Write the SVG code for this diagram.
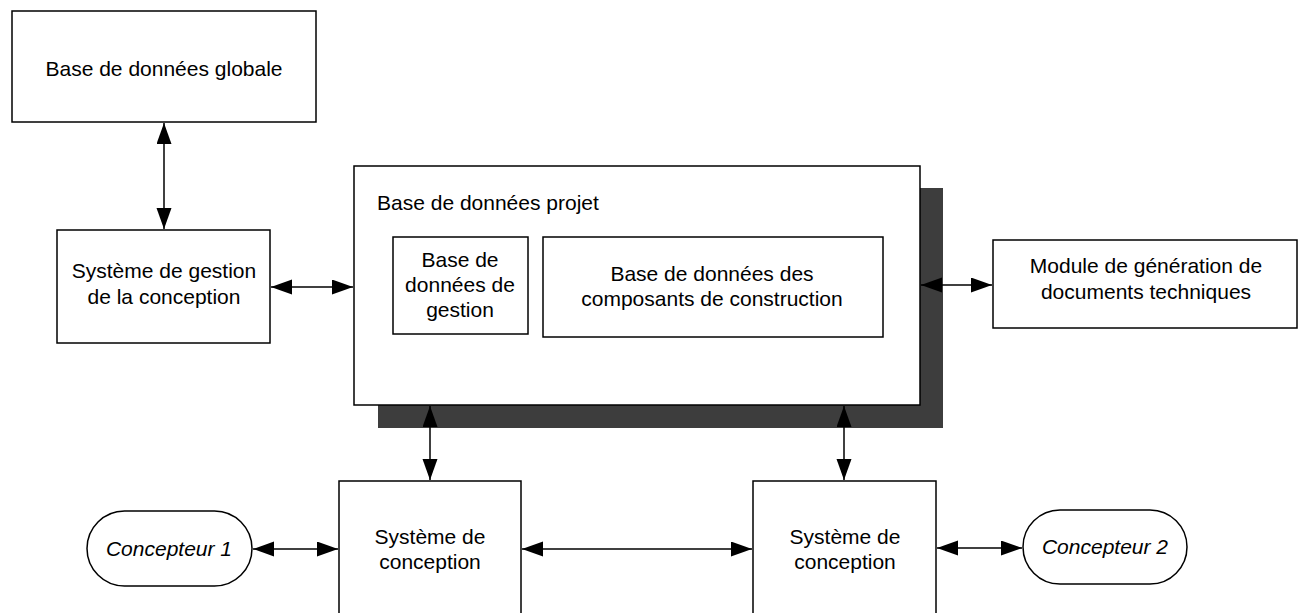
<svg xmlns="http://www.w3.org/2000/svg" width="1303" height="613" viewBox="0 0 1303 613">
  <style>
    .box { fill: #ffffff; stroke: #000000; stroke-width: 1.5; }
    .shadow { fill: #3d3d3d; }
    .lbl { font-family: "Liberation Sans", Arial, sans-serif; font-size: 21px; fill: #000000; text-anchor: middle; }
    .lbl-left { text-anchor: start; }
    .ital { font-style: italic; }
    .link { fill: none; stroke: #000000; stroke-width: 1.5; marker-start: url(#head); marker-end: url(#head); }
  </style>
  <defs>
    <marker id="head" markerUnits="userSpaceOnUse" markerWidth="22" markerHeight="16" refX="21" refY="7.5" orient="auto-start-reverse">
      <path d="M0,0 L21,7.5 L0,15 z" fill="#000000"/>
    </marker>
  </defs>
  <rect width="1303" height="613" fill="#ffffff"/>

  <!-- Global database -->
  <g id="global-db">
    <rect class="box" x="12" y="11" width="304" height="111"/>
    <text class="lbl" x="164" y="76">Base de données globale</text>
  </g>

  <!-- Design management system -->
  <g id="gestion-system">
    <rect class="box" x="57" y="230" width="213" height="113"/>
    <text class="lbl" x="164" y="278">Système de gestion</text>
    <text class="lbl" x="164" y="304">de la conception</text>
  </g>

  <!-- Project database with drop shadow and two inner stores -->
  <g id="project-db">
    <rect class="shadow" x="378" y="188" width="565" height="240"/>
    <rect class="box" x="354" y="166" width="566" height="239"/>
    <text class="lbl lbl-left" x="377" y="210">Base de données projet</text>
  </g>
  <g id="management-db">
    <rect class="box" x="393" y="237" width="135" height="97"/>
    <text class="lbl" x="460" y="267">Base de</text>
    <text class="lbl" x="460" y="292">données de</text>
    <text class="lbl" x="460" y="317">gestion</text>
  </g>
  <g id="components-db">
    <rect class="box" x="543" y="237" width="340" height="100"/>
    <text class="lbl" x="712" y="281">Base de données des</text>
    <text class="lbl" x="712" y="306">composants de construction</text>
  </g>

  <!-- Technical documents module -->
  <g id="doc-module">
    <rect class="box" x="993" y="240" width="304" height="88"/>
    <text class="lbl" x="1146" y="273">Module de génération de</text>
    <text class="lbl" x="1146" y="299">documents techniques</text>
  </g>

  <!-- Design systems (boxes run past the lower edge) -->
  <g id="design-system-1">
    <rect class="box" x="339" y="481" width="182" height="160"/>
    <text class="lbl" x="430" y="544">Système de</text>
    <text class="lbl" x="430" y="569">conception</text>
  </g>
  <g id="design-system-2">
    <rect class="box" x="753" y="481" width="183" height="160"/>
    <text class="lbl" x="845" y="544">Système de</text>
    <text class="lbl" x="845" y="569">conception</text>
  </g>

  <!-- Designers -->
  <g id="designer-1">
    <rect class="box" x="87" y="511" width="165" height="75" rx="37.5" ry="37.5"/>
    <text class="lbl ital" x="169" y="556">Concepteur 1</text>
  </g>
  <g id="designer-2">
    <rect class="box" x="1023" y="510" width="164" height="74" rx="37" ry="37"/>
    <text class="lbl ital" x="1105" y="554">Concepteur 2</text>
  </g>

  <!-- Connectors -->
  <g id="connectors">
    <line class="link" x1="164" y1="123" x2="164" y2="229"/>
    <line class="link" x1="271" y1="287" x2="353" y2="287"/>
    <line class="link" x1="921" y1="285" x2="992" y2="285"/>
    <line class="link" x1="430" y1="406" x2="430" y2="480"/>
    <line class="link" x1="844" y1="406" x2="844" y2="480"/>
    <line class="link" x1="253" y1="549" x2="338" y2="549"/>
    <line class="link" x1="522" y1="549" x2="752" y2="549"/>
    <line class="link" x1="937" y1="548" x2="1022" y2="548"/>
  </g>
</svg>
